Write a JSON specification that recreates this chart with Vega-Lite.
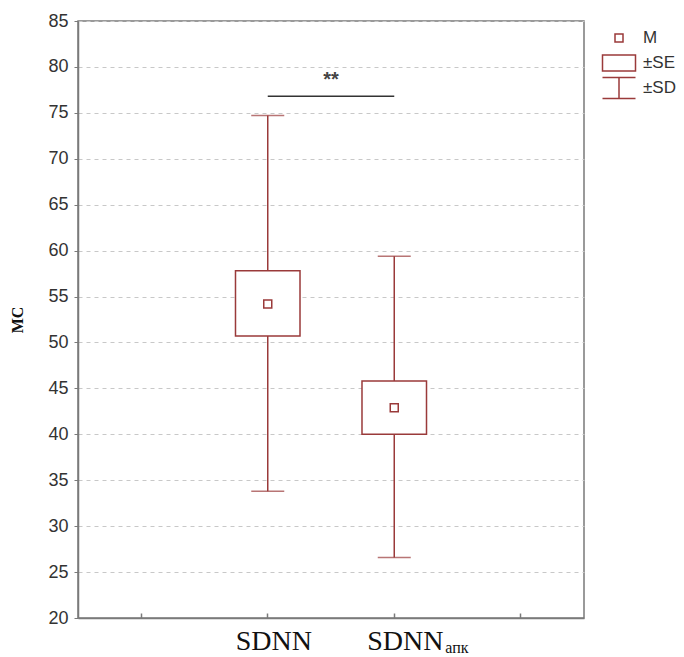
{
  "$schema": "https://vega.github.io/schema/vega-lite/v6.json",
  "width": 506,
  "height": 597,
  "autosize": "none",
  "padding": {"left": 78, "top": 21, "right": 100, "bottom": 39},
  "background": "white",
  "config": {
    "view": {"stroke": "#7a7a7a", "strokeWidth": 1.5}
  },
  "datasets": {
    "stats": [
      {"cat": "SDNN", "mean": 54.2, "seLo": 50.7, "seHi": 57.8, "sdLo": 33.8, "sdHi": 74.7},
      {"cat": "SDNNapk", "mean": 42.9, "seLo": 40.0, "seHi": 45.8, "sdLo": 26.6, "sdHi": 59.4}
    ],
    "sig": [
      {"a": "SDNN", "b": "SDNNapk", "y": 76.8, "ty": 78.6, "label": "**"}
    ],
    "subs": [
      {"cat": "SDNNapk", "sub": "апк"}
    ]
  },
  "data": {"name": "stats"},
  "encoding": {
    "x": {
      "field": "cat",
      "type": "nominal",
      "scale": {"type": "band", "domain": ["e1", "SDNN", "SDNNapk", "e2"], "paddingInner": 0, "paddingOuter": 0},
      "axis": {
        "title": null,
        "labelAngle": 0,
        "labelExpr": "datum.value == 'SDNN' || datum.value == 'SDNNapk' ? 'SDNN' : ''",
        "labelFont": "Liberation Serif",
        "labelFontSize": 28,
        "labelColor": "#111111",
        "labelPadding": 14,
        "labelOffset": {"condition": {"test": "datum.value === 'SDNNapk'", "value": 11}, "value": 6},
        "domainColor": "#7a7a7a",
        "domainWidth": 1.5,
        "tickColor": "#7a7a7a",
        "tickSize": -5,
        "tickWidth": 1.5,
        "grid": false
      }
    }
  },
  "layer": [
    {
      "mark": {"type": "rule", "color": "#9a3a3a", "strokeWidth": 1.5},
      "encoding": {
        "y": {
          "field": "sdLo",
          "type": "quantitative",
          "scale": {"domain": [20, 85], "nice": false, "zero": false},
          "axis": {
            "values": [20, 25, 30, 35, 40, 45, 50, 55, 60, 65, 70, 75, 80, 85],
            "title": "МС",
            "titleFont": "Liberation Serif",
            "titleFontWeight": "bold",
            "titleFontSize": 16,
            "titleColor": "#111111",
            "titlePadding": 22,
            "labelFont": "Liberation Sans",
            "labelFontSize": 18,
            "labelColor": "#333333",
            "labelPadding": 6,
            "domainColor": "#7a7a7a",
            "domainWidth": 1.5,
            "tickColor": "#7a7a7a",
            "tickSize": 4,
            "grid": true,
            "gridDash": [4, 4],
            "gridColor": "#c8c8c8",
            "gridWidth": 1
          }
        },
        "y2": {"field": "sdHi"}
      }
    },
    {
      "transform": [{"fold": ["sdLo", "sdHi"], "as": ["k", "v"]}],
      "mark": {"type": "tick", "color": "#9a3a3a", "size": 33, "thickness": 1.5, "orient": "horizontal"},
      "encoding": {
        "y": {"field": "v", "type": "quantitative"}
      }
    },
    {
      "mark": {"type": "bar", "fill": "white", "stroke": "#9a3a3a", "strokeWidth": 1.5, "width": {"band": 0.51}},
      "encoding": {
        "y": {"field": "seLo", "type": "quantitative"},
        "y2": {"field": "seHi"}
      }
    },
    {
      "mark": {"type": "point", "filled": false, "color": "#9a3a3a", "strokeWidth": 1.5, "size": 400, "opacity": 1},
      "encoding": {
        "y": {"field": "mean", "type": "quantitative"},
        "shape": {
          "datum": "M",
          "type": "nominal",
          "scale": {
            "domain": ["M", "±SE", "±SD"],
            "range": [
              "M0,-1.1M0,1.1M-0.4,-0.4H0.4V0.4H-0.4Z",
              "M0,-1.1M0,1.1M-1.65,-0.8H1.65V0.8H-1.65Z",
              "M0,-1.1M0,1.1M-1.65,-1.05H1.65M0,-1.05V1.05M-1.65,1.05H1.65"
            ]
          },
          "legend": {
            "title": null,
            "orient": "none",
            "legendX": 530,
            "legendY": 6,
            "padding": 0,
            "symbolSize": 400,
            "symbolStrokeWidth": 1.5,
            "symbolStrokeColor": "#9a3a3a",
            "symbolFillColor": "transparent",
            "labelFont": "Liberation Sans",
            "labelFontSize": 17,
            "labelColor": "#333333",
            "labelOffset": 13,
            "rowPadding": -4
          }
        }
      }
    },
    {
      "data": {"name": "sig"},
      "mark": {"type": "rule", "color": "#333333", "strokeWidth": 1.5},
      "encoding": {
        "x": {"field": "a", "type": "nominal", "bandPosition": 0.5},
        "x2": {"field": "b"},
        "y": {"field": "y", "type": "quantitative"}
      }
    },
    {
      "data": {"name": "sig"},
      "mark": {"type": "text", "font": "Liberation Sans", "fontSize": 20, "fontWeight": "bold", "color": "#444444", "baseline": "middle", "align": "center"},
      "encoding": {
        "x": {"field": "b", "type": "nominal", "bandPosition": 0},
        "y": {"field": "ty", "type": "quantitative"},
        "text": {"field": "label"}
      }
    },
    {
      "data": {"name": "subs"},
      "mark": {"type": "text", "font": "Liberation Serif", "fontSize": 16, "color": "#111111", "align": "left", "baseline": "alphabetic", "dx": 51, "dy": 35, "clip": false},
      "encoding": {
        "x": {"field": "cat", "type": "nominal"},
        "y": {"datum": 20},
        "text": {"field": "sub"}
      }
    }
  ]
}
